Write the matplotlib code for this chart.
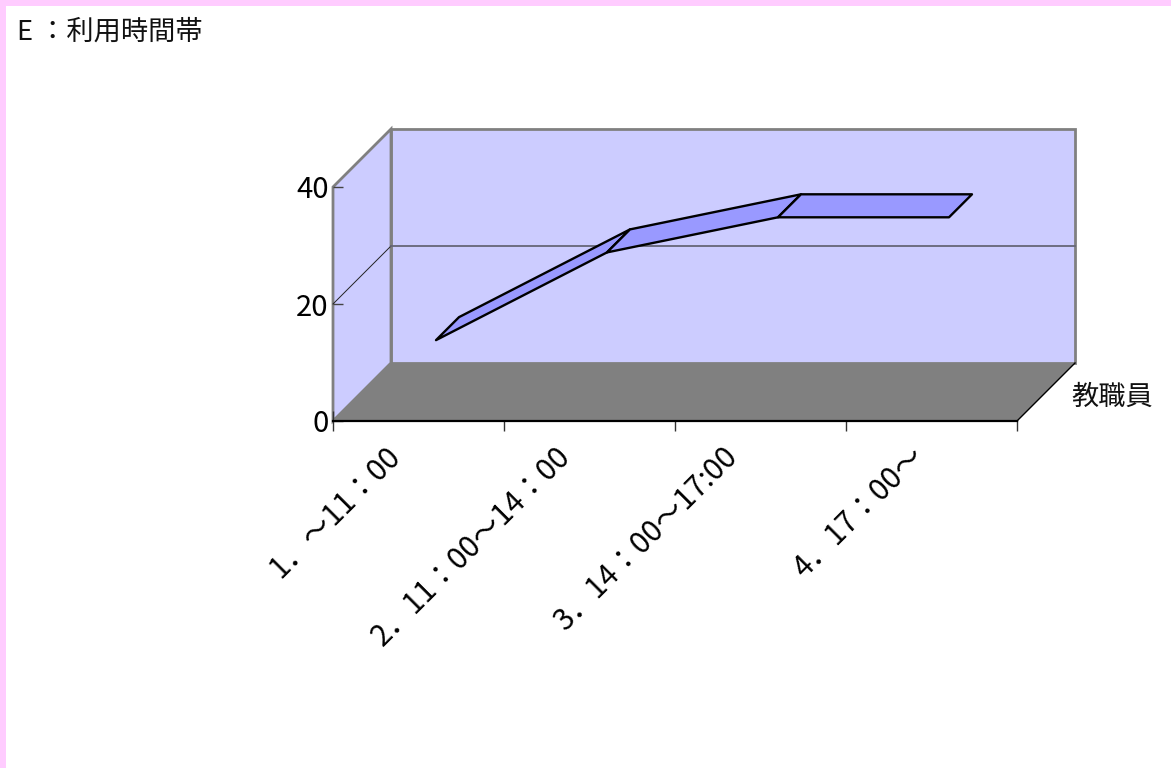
import matplotlib
matplotlib.use("Agg")
import matplotlib.pyplot as plt
from matplotlib.patches import Polygon, Rectangle
from matplotlib.transforms import ScaledTranslation

# values
categories = ["1．～11：00", "2．11：00～14：00", "3．14：00～17:00", "4．17：00～"]
values = [11, 26, 32, 32]
series_name = "教職員"
title = "E ：利用時間帯"
y_ticks = [0, 20, 40]

plt.rcParams["font.family"] = ["Noto Sans CJK JP", "DejaVu Sans"]

W, H = 1171, 768
fig = plt.figure(figsize=(W / 100, H / 100), dpi=100, facecolor="white")

# page border
fig.add_artist(Rectangle((0, 0), 6 / W, 1, transform=fig.transFigure, color="#FFCCFF", lw=0))
fig.add_artist(Rectangle((0, 1 - 6 / H), 1, 6 / H, transform=fig.transFigure, color="#FFCCFF", lw=0))

# front plane of the fake 3d box
ax = fig.add_axes([333 / W, 1 - 421 / H, 684 / W, 234 / H])
ax.set_xlim(0, 4)
ax.set_ylim(0, 40)
ax.patch.set_visible(False)
for s in ax.spines.values():
    s.set_visible(False)

# depth of the box, in data units
dx = 58 / 171
dy = 58 / 5.85
ymax = 40

wall = "#CCCCFF"
grey = "#808080"

ax.add_patch(Polygon([(dx, dy), (4 + dx, dy), (4 + dx, ymax + dy), (dx, ymax + dy)],
                     fc=wall, ec=grey, lw=2, clip_on=False, zorder=1, joinstyle="miter"))
ax.add_patch(Polygon([(0, 0), (dx, dy), (dx, ymax + dy), (0, ymax)],
                     fc=wall, ec=grey, lw=2, clip_on=False, zorder=1))
ax.add_patch(Polygon([(0, 0), (4, 0), (4 + dx, dy), (dx, dy)],
                     fc=grey, ec="none", clip_on=False, zorder=2))
ax.plot([4, 4 + dx], [0, dy], color="black", lw=1, clip_on=False, zorder=3)
ax.plot([0, 4], [0, 0], color="black", lw=1.6, clip_on=False, zorder=3)

# gridlines
for v in y_ticks[1:-1]:
    ax.plot([0, dx], [v, v + dy], color="#222222", lw=0.7, clip_on=False, zorder=3)
    ax.plot([dx, 4 + dx], [v + dy, v + dy], color="#666677", lw=1.3, clip_on=False, zorder=3)

# ribbon line
front_x = 17.5 / 171
front_y = 16.5 / 5.85
back_x = 40.5 / 171
back_y = 39.5 / 5.85
for i in range(len(values) - 1):
    x0, x1 = i + 0.5, i + 1.5
    ax.add_patch(Polygon([(x0 + front_x, values[i] + front_y),
                          (x1 + front_x, values[i + 1] + front_y),
                          (x1 + back_x, values[i + 1] + back_y),
                          (x0 + back_x, values[i] + back_y)],
                         fc="#9999FF", ec="black", lw=1.7, clip_on=False, zorder=4,
                         joinstyle="round"))

# ticks
ax.set_yticks(y_ticks)
ax.tick_params(axis="y", direction="in", length=7, width=1, color="#444444", pad=3)
for t in ax.get_yticklabels():
    t.set_fontsize(21)

ax.set_xticks(range(5))
ax.set_xticklabels([])
ax.tick_params(axis="x", which="major", direction="inout", length=15, width=1, color="#333333")

ax.set_xticks([i + 0.5 for i in range(4)], minor=True)
ax.set_xticklabels(categories, minor=True, rotation=45, ha="right", va="center",
                   rotation_mode="anchor", fontsize=21.4)
ax.tick_params(axis="x", which="minor", length=0, pad=0)
extra = [0, 0, -3, 8]
for t, e in zip(ax.get_xticklabels(minor=True), extra):
    shift = ScaledTranslation((-16.6 + e) / 72, -22.2 / 72, fig.dpi_scale_trans)
    t.set_transform(t.get_transform() + shift)

# series name on the depth axis
ax.text(4 + dx + 0.22, dy / 2 - 1, series_name, fontsize=19.6, ha="center", va="center", clip_on=False, color="#111111")

fig.text(17 / W, 1 - 32 / H, title, fontsize=19.6, ha="left", va="center", color="#111111")

fig.savefig("out.png", dpi=100)
